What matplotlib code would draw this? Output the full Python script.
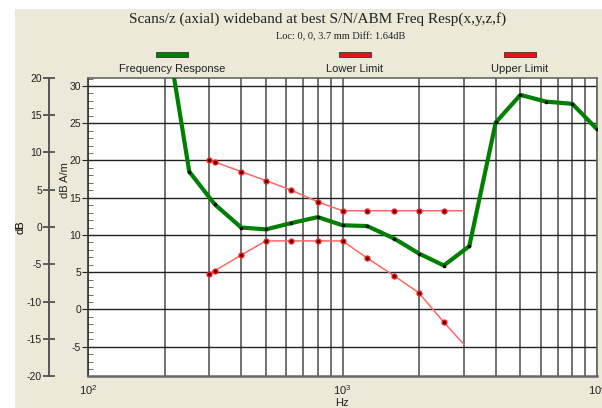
import matplotlib
matplotlib.use("Agg")
import matplotlib.pyplot as plt
from matplotlib.patches import Rectangle
from matplotlib.ticker import MultipleLocator, FixedLocator, NullFormatter

# ---- data ----
freq_resp_hz = [200, 250, 315, 400, 500, 630, 800, 1000, 1250, 1600, 2000,
                2500, 3150, 4000, 5000, 6300, 8000, 10000]
freq_resp_db = [39.0, 18.5, 14.1, 11.0, 10.75, 11.6, 12.4, 11.3, 11.2, 9.5, 7.5,
                5.9, 8.5, 25.1, 28.8, 27.9, 27.6, 24.2]

limit_hz = [300, 315, 400, 500, 630, 800, 1000, 1250, 1600, 2000, 2500, 3000]
lower_limit_db = [4.8, 5.2, 7.3, 9.2, 9.2, 9.2, 9.2, 6.9, 4.5, 2.2, -1.7, -4.7]
upper_limit_db = [20.1, 19.8, 18.5, 17.3, 16.0, 14.45, 13.25, 13.25, 13.25,
                  13.25, 13.25, 13.25]

legend_labels = ["Frequency Response", "Lower Limit", "Upper Limit"]
title = "Scans/z (axial) wideband at best S/N/ABM Freq Resp(x,y,z,f)"
subtitle = "Loc: 0, 0, 3.7 mm Diff: 1.64dB"

# ---- figure ----
W, H = 602, 408
plt.rcParams["axes.unicode_minus"] = False
fig = plt.figure(figsize=(W / 100, H / 100), dpi=100, facecolor="white")
beige = "#ECE9D8"
fig.patches.append(Rectangle((15 / W, 0), 1 - 15 / W, 1 - 9 / H,
                             transform=fig.transFigure, facecolor=beige,
                             edgecolor="none", zorder=-10))

sans = "Liberation Sans"
serif = "Liberation Serif"
plt.rcParams["font.family"] = sans
plt.rcParams["mathtext.fontset"] = "custom"
plt.rcParams["mathtext.rm"] = sans

L, R, T, B = 88, 597, 78, 376
ax = fig.add_axes([L / W, 1 - B / H, (R - L) / W, (B - T) / H])
ax.set_facecolor("white")
ax.set_xscale("log")
ax.set_xlim(100, 10000)
ax.set_ylim(-8.93, 31.07)

# grid
ax.xaxis.set_major_locator(FixedLocator([100, 1000, 10000]))
ax.xaxis.set_minor_locator(FixedLocator([200, 300, 400, 500, 600, 700, 800, 900,
                                         2000, 3000, 4000, 5000, 6000, 7000, 8000, 9000]))
ax.xaxis.set_minor_formatter(NullFormatter())
ax.yaxis.set_major_locator(MultipleLocator(5))
ax.yaxis.set_minor_locator(MultipleLocator(1))
ax.grid(True, which="both", axis="x", color="#4a4a4a", lw=1.1)
ax.grid(True, which="major", axis="y", color="#222222", lw=1.0)
ax.set_axisbelow(True)

ax.tick_params(axis="x", which="both", length=0, labelsize=8, pad=5, colors="#222222")
ax.tick_params(axis="y", which="major", direction="out", length=4, labelsize=7.5,
               pad=1, colors="#222222")
ax.tick_params(axis="y", which="minor", direction="in", length=3.5, color="#555555")
for s in ["left", "top", "right", "bottom"]:
    ax.spines[s].set_color("#666666")
    ax.spines[s].set_linewidth(1.2)
ax.spines["left"].set_color("#333333")
ax.spines["bottom"].set_linewidth(1.8)

# data
ax.plot(freq_resp_hz, freq_resp_db, color="#008000", lw=3.0, solid_joinstyle="round",
        zorder=3, clip_on=True)
ax.plot(freq_resp_hz, freq_resp_db, ls="none", marker="o", ms=1.6, color="black",
        zorder=4)
for vals in (lower_limit_db, upper_limit_db):
    ax.plot(limit_hz, vals, color="#ff6666", lw=1.1, zorder=3)
    ax.plot(limit_hz, vals, ls="none", marker="o", ms=3.6, mfc="#600000",
            mec="#ff2020", mew=0.9, markevery=slice(0, -1), zorder=4)

# left dB axis
ax2 = ax.twinx()
ax2.set_ylim(-20, 20)
ax2.yaxis.tick_left()
ax2.yaxis.set_label_position("left")
ax2.spines["left"].set_position(("axes", (49 - L) / (R - L)))
ax2.spines["left"].set_color("#555555")
ax2.spines["left"].set_linewidth(1.4)
for s in ["right", "top", "bottom"]:
    ax2.spines[s].set_visible(False)
ax2.yaxis.set_major_locator(MultipleLocator(5))
ax2.tick_params(axis="y", direction="inout", length=8, width=1.2, color="#444444",
                labelsize=7.5, pad=1, labelcolor="#222222")
ax2.set_ylabel("dB", fontsize=8, labelpad=2)
ax2.yaxis.set_label_coords((25 - L) / (R - L), 0.5)

# texts
fig.text(65 / W, 1 - 180 / H, "dB A/m", rotation=90, ha="center", va="center",
         fontsize=8, color="#222222")
fig.text(342 / W, 1 - 403 / H, "Hz", ha="center", va="center", fontsize=8,
         color="#222222")
fig.text(318 / W, 1 - 19 / H, title, ha="center", va="center", fontsize=11,
         family=serif, color="#222222")
fig.text(341 / W, 1 - 37 / H, subtitle, ha="center", va="center", fontsize=7.5,
         family=serif, color="#222222")

leg_cx = [172, 355, 520]
leg_colors = ["#008000", "#ee1111", "#ee1111"]
for cx, lab, c in zip(leg_cx, legend_labels, leg_colors):
    fig.patches.append(Rectangle(((cx - 16) / W, 1 - 57 / H), 32 / W, 5 / H,
                                 transform=fig.transFigure, facecolor=c,
                                 edgecolor="#333333", lw=0.6, zorder=5))
    fig.text(cx / W, 1 - 69 / H, lab, ha="center", va="center", fontsize=8,
             color="#222222")

fig.savefig("out.png", dpi=100, facecolor=fig.get_facecolor())
